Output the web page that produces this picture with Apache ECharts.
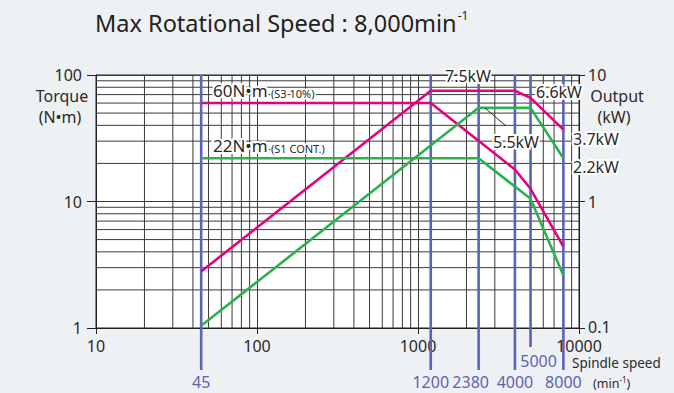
<!DOCTYPE html>
<html>
<head>
<meta charset="utf-8">
<script src="https://cdn.jsdelivr.net/npm/echarts@6/dist/echarts.min.js"></script>
<style>
html,body{margin:0;padding:0;background:#eef1f3;}
#c{width:674px;height:393px;}
</style>
</head>
<body>
<div id="c"></div>
<script>
// ---- data ----
const xMinorGrid = [20,30,40,50,60,70,80,90,200,300,400,500,600,700,800,900,2000,3000,4000,5000,6000,7000,8000,9000];
const yMinorGrid = [2,3,4,5,6,7,8,9,20,30,40,50,60,70,80,90];
const markSpeeds = [45, 1200, 2380, 4000, 5000, 8000];
const markLabels = ['45', '1200', '2380', '4000', '5000', '8000'];
const markShort  = [0, 0, 0, 0, 1, 0];

const s3Speed  = [45, 1200, 4000, 5000, 8000];
const s3Torque = [60, 60, 17.9, 12.6, 4.4];
const s3Output = [0.28, 7.5, 7.5, 6.6, 3.7];

const s1Speed  = [45, 2380, 5000, 8000];
const s1Torque = [22, 22, 10.5, 2.6];
const s1Output = [0.104, 5.5, 5.5, 2.2];

// ---- styles ----
const FONT = '"Noto Sans", sans-serif';
const PINK = '#e5007f';
const GREEN = '#2bb24c';
const BLUE = '#5a63b6';
const TXT = '#2a2a2a';
const GRID = '#3a3a3a';
const labelShiftX = [0, 0, -8, 0, 8, 0];

const zip = (xs, ys) => xs.map((x, i) => [x, ys[i]]);
const ctx = document.createElement('canvas').getContext('2d');
function measure(text, size) { ctx.font = size + 'px ' + FONT; return ctx.measureText(text).width; }

const chart = echarts.init(document.getElementById('c'), null, {renderer: 'svg'});

function txt(x, y, text, size, extra) {
  return {type: 'text', x: x, y: y, z: 10, style: Object.assign({
    text: text, fill: TXT, font: size + 'px ' + FONT,
    align: 'center', verticalAlign: 'middle', textAlign: 'center', textVerticalAlign: 'middle'
  }, extra || {})};
}
const halo = {stroke: '#fff', lineWidth: 4};
const L = {align: 'left', textAlign: 'left'};

const titleMain = 'Max Rotational Speed : 8,000min';
const titleSize = 23.5;
const titleW = measure(titleMain, titleSize);
const minW = measure('(min', 12.5);

const option = {
  backgroundColor: '#eef1f3',
  animation: false,
  grid: {left: 96, right: 95, top: 75, bottom: 65, show: true, backgroundColor: '#ffffff', borderColor: '#222', borderWidth: 1},
  xAxis: {
    type: 'log', logBase: 10, min: 10, max: 10000,
    axisLine: {show: true, lineStyle: {color: '#222', width: 1}},
    axisTick: {show: true, length: 6, lineStyle: {color: '#222'}},
    axisLabel: {fontFamily: FONT, fontSize: 16, color: TXT, margin: 10, formatter: v => String(v)},
    splitLine: {show: true, lineStyle: {color: GRID, width: 1}}
  },
  yAxis: [
    {
      type: 'log', logBase: 10, min: 1, max: 100, position: 'left',
      axisLine: {show: true, lineStyle: {color: '#222'}},
      axisTick: {show: true, length: 9, lineStyle: {color: '#222'}},
      axisLabel: {fontFamily: FONT, fontSize: 16, color: TXT, margin: 14},
      splitLine: {show: true, lineStyle: {color: GRID, width: 1}}
    },
    {
      type: 'log', logBase: 10, min: 0.1, max: 10, position: 'right',
      axisLine: {show: true, lineStyle: {color: '#222'}},
      axisTick: {show: true, length: 6, lineStyle: {color: '#222'}},
      axisLabel: {fontFamily: FONT, fontSize: 16, color: TXT, margin: 9,
        formatter: v => (v < 0.5 ? '{s|' + v + '}' : String(v)),
        rich: {s: {fontFamily: FONT, fontSize: 16, color: TXT, padding: [0, 0, 2, 0]}}},
      splitLine: {show: false}
    }
  ],
  series: [
    {
      type: 'custom', name: 'vgrid', z: 1, silent: true,
      data: xMinorGrid.map(v => [v, 1]),
      renderItem: function (params, api) {
        const a = api.coord([api.value(0), 1]);
        const b = api.coord([api.value(0), 100]);
        return {type: 'line', shape: {x1: a[0], y1: a[1], x2: b[0], y2: b[1]}, style: {stroke: GRID, lineWidth: 1}};
      }
    },
    {
      type: 'custom', name: 'hgrid', z: 1, silent: true,
      data: yMinorGrid.map(v => [10, v]),
      renderItem: function (params, api) {
        const a = api.coord([10, api.value(1)]);
        const b = api.coord([10000, api.value(1)]);
        return {type: 'line', shape: {x1: a[0], y1: a[1], x2: b[0], y2: b[1]}, style: {stroke: GRID, lineWidth: 1}};
      }
    },
    {
      type: 'custom', name: 'speeds', z: 2, silent: true, clip: false,
      data: markSpeeds.map((v, i) => [v, 1, markShort[i], i]),
      renderItem: function (params, api) {
        const x = api.value(0);
        const top = api.coord([x, 100]);
        const bot = api.coord([x, 1]);
        const short = api.value(2) === 1;
        const ext = short ? 19 : 42;
        const idx = api.value(3);
        return {
          type: 'group',
          children: [
            {type: 'line', shape: {x1: top[0], y1: top[1], x2: top[0], y2: bot[1] + ext}, style: {stroke: BLUE, lineWidth: 2.6}},
            {type: 'text', x: top[0] + labelShiftX[idx], y: bot[1] + (short ? 33 : 54),
             style: {text: markLabels[idx], fill: BLUE, font: '16px ' + FONT, align: 'center', verticalAlign: 'middle', textAlign: 'center', textVerticalAlign: 'middle'}}
          ]
        };
      }
    },
    {type: 'line', name: 'S3 torque', yAxisIndex: 0, z: 3, symbol: 'none', data: zip(s3Speed, s3Torque), lineStyle: {color: PINK, width: 2.6}},
    {type: 'line', name: 'S3 output', yAxisIndex: 1, z: 3, symbol: 'none', data: zip(s3Speed, s3Output), lineStyle: {color: PINK, width: 2.6}},
    {type: 'line', name: 'S1 torque', yAxisIndex: 0, z: 3, symbol: 'none', data: zip(s1Speed, s1Torque), lineStyle: {color: GREEN, width: 2.6}},
    {type: 'line', name: 'S1 output', yAxisIndex: 1, z: 3, symbol: 'none', data: zip(s1Speed, s1Output), lineStyle: {color: GREEN, width: 2.6}}
  ],
  graphic: [
    txt(95, 23, titleMain, titleSize, Object.assign({fill: '#222'}, L)),
    txt(95 + titleW + 1, 15, '-1', 12, Object.assign({fill: '#222'}, L)),
    txt(62, 96, 'Torque', 16),
    txt(60, 117, '(N•m)', 16),
    txt(617, 96, 'Output', 16),
    txt(614, 117, '(kW)', 16),
    txt(572, 363, 'Spindle speed', 13.5, L),
    txt(593, 383, '(min', 12.5, L),
    txt(593 + minW, 379, '-1', 8, L),
    txt(593 + minW + measure('-1', 8), 383, ')', 12.5, L),
    // annotations
    txt(213, 90, '60N•m', 17, Object.assign({}, L, halo)),
    txt(268, 93, '·(S3 10%)', 11, Object.assign({}, L, {stroke: '#fff', lineWidth: 3})),
    txt(213, 145, '22N•m', 17, Object.assign({}, L, halo)),
    txt(268, 148, '·(S1 CONT.)', 11, Object.assign({}, L, {stroke: '#fff', lineWidth: 3})),
    txt(468, 76, '7.5kW', 16, halo),
    txt(559, 92, '6.6kW', 16, halo),
    txt(516, 142, '5.5kW', 16, halo),
    {type: 'line', z: 10, shape: {x1: 485, y1: 108, x2: 506, y2: 126}, style: {stroke: '#222', lineWidth: 1}},
    txt(596, 139, '3.7kW', 16, halo),
    txt(596, 167, '2.2kW', 16, halo)
  ]
};
chart.setOption(option);
</script>
</body>
</html>
